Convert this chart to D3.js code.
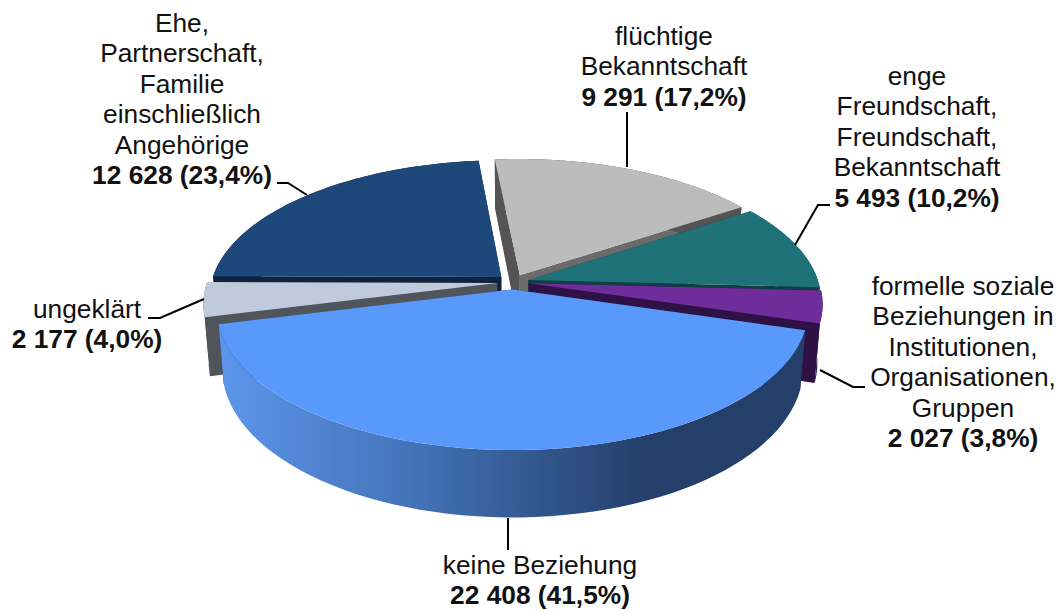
<!DOCTYPE html>
<html><head><meta charset="utf-8">
<script src="https://cdnjs.cloudflare.com/ajax/libs/d3/7.8.5/d3.min.js"></script>
<style>html,body{margin:0;padding:0;background:#fff}svg{display:block}text{font-family:"Liberation Sans",Arial,sans-serif;font-size:26.3px;fill:#111}</style>
</head><body><svg id="c" width="1060" height="611"></svg>
<script>
const categories=["flüchtige Bekanntschaft","enge Freundschaft, Freundschaft, Bekanntschaft","formelle soziale Beziehungen in Institutionen, Organisationen, Gruppen","keine Beziehung","ungeklärt","Ehe, Partnerschaft, Familie einschließlich Angehörige"];
const values=[9291,5493,2027,22408,2177,12628];
const valueLabels=["9 291 (17,2%)","5 493 (10,2%)","2 027 (3,8%)","22 408 (41,5%)","2 177 (4,0%)","12 628 (23,4%)"];
const labelLines=[["flüchtige","Bekanntschaft"],["enge","Freundschaft,","Freundschaft,","Bekanntschaft"],["formelle soziale","Beziehungen in","Institutionen,","Organisationen,","Gruppen"],["keine Beziehung"],["ungeklärt"],["Ehe,","Partnerschaft,","Familie","einschließlich","Angehörige"]];
const topColors=["#bcbcbc","#1f7278","#6f2d9c","#5899fb","#bfcbdd","#1e477a"];
const wallColors=["#545454","#0f3f42","#2e1245","#24406a","#50555c","#0d2340"];
const endWallColors=["#6b6b6b","#0f3f42","#2e1245","#24406a","#50555c","#0d2340"];
const labelX=[664,917,963,540,87,182], labelBase=[45,85,295,574,318,32];
const leaders=[[[627,112],[627,167]],[[830,205],[818,205],[795,245]],[[820,370],[853,387],[865,387]],[[508,518],[508,550]],[[148,318],[160,318],[204,299]],[[277,183],[288,183],[307,195]]];
const drawOrder=[5,0,1,4,2,3];

const svg=d3.select("#c"), defs=svg.append("defs");
const cx=513,cy=282,R=290,K=135,P=0.145,D=57,EX=0.055,NARROW=0.017;
const arcs=d3.pie().sort(null).value(d=>d).startAngle(-5.5*Math.PI/180).endAngle((360-5.5)*Math.PI/180)(values);
function project(u,v,z){const s=1/(1-P*v);return [cx+R*u*s*(1-NARROW*z),cy+(K*v+D*z)*s];}
const line=d3.line();
function geom(a){
  const m=(a.startAngle+a.endAngle)/2, ox=EX*Math.sin(m), oy=-EX*Math.cos(m);
  const pt=(t,z)=>project(ox+Math.sin(t),oy-Math.cos(t),z);
  const apex=z=>project(ox,oy,z);
  const ts=d3.range(0,61).map(i=>a.startAngle+(a.endAngle-a.startAngle)*i/60);
  return {pt,apex,ts};
}
const grad=defs.append("linearGradient").attr("id","sideGrad").attr("gradientUnits","userSpaceOnUse").attr("x1",222).attr("x2",806).attr("y1",0).attr("y2",0);
[[0,"#5c95ea"],[0.3,"#4676bd"],[0.72,"#24406a"],[1,"#24406a"]].forEach(s=>grad.append("stop").attr("offset",s[0]).attr("stop-color",s[1]));

const g=svg.append("g");
drawOrder.forEach(i=>{
  const a=arcs[i], {pt,apex,ts}=geom(a);
  const s0=a.startAngle,s1=a.endAngle;
  g.append("path").attr("d",line([apex(0),pt(s1,0),pt(s1,1),apex(1)])+"Z").attr("fill",endWallColors[i]);
  g.append("path").attr("d",line([apex(0),pt(s0,0),pt(s0,1),apex(1)])+"Z").attr("fill",wallColors[i]);
  const outer=ts.map(t=>pt(t,0)).concat(ts.slice().reverse().map(t=>pt(t,1)));
  g.append("path").attr("d",line(outer)+"Z").attr("fill",i===3?"url(#sideGrad)":wallColors[i]);
  const top=[apex(0)].concat(ts.map(t=>pt(t,0)));
  g.append("path").attr("d",line(top)+"Z").attr("fill",topColors[i]);
});
leaders.forEach(l=>svg.append("path").attr("d",line(l)).attr("fill","none").attr("stroke","#000").attr("stroke-width",2));
const LH=30.4;
labelLines.forEach((lines,i)=>{
  const t=svg.append("text").attr("text-anchor","middle");
  lines.forEach((s,j)=>t.append("tspan").attr("x",labelX[i]).attr("y",labelBase[i]+j*LH).text(s));
  t.append("tspan").attr("x",labelX[i]).attr("y",labelBase[i]+lines.length*LH).attr("font-weight","bold").text(valueLabels[i]);
});
</script></body></html>
